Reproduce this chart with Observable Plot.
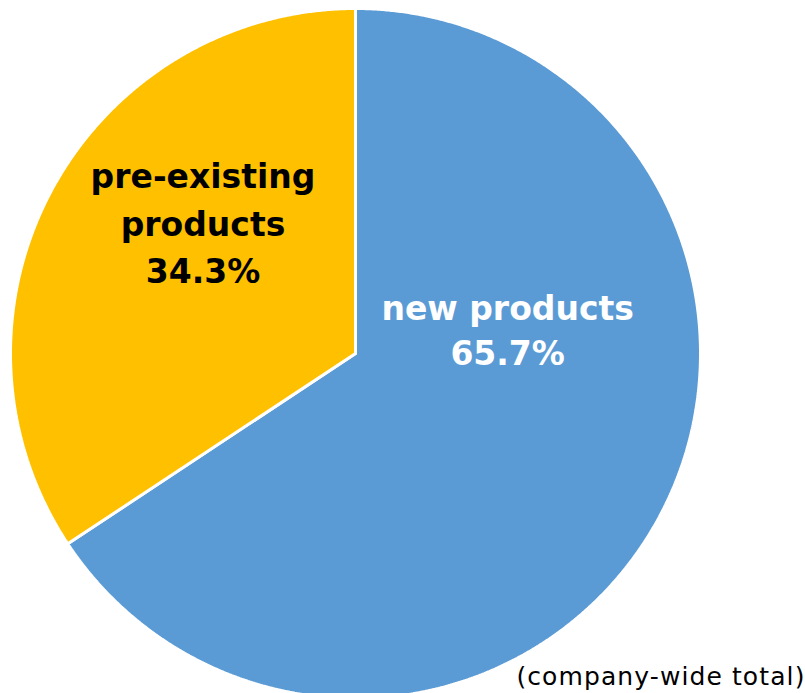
<!DOCTYPE html>
<html>
<head>
<meta charset="utf-8">
<script src="https://cdn.jsdelivr.net/npm/d3@7"></script>
<script src="https://cdn.jsdelivr.net/npm/@observablehq/plot@0.6"></script>
<style>
  html, body { margin: 0; padding: 0; background: #ffffff; }
  #chart svg { display: block; }
  .caption text { letter-spacing: 1.1px; }
</style>
</head>
<body>
<div id="chart"></div>
<script>
// ---- data ----
const categories = ["new products", "pre-existing products"];
const shares = [65.7, 34.3];
const sliceLabels = ["new products\n65.7%", "pre-existing\nproducts\n34.3%"];
const caption = "(company-wide total)";

// ---- styling / layout (not data) ----
const colors = ["#5B9BD5", "#FFC000"];
const labelColors = ["#ffffff", "#000000"];
// label anchor positions in unit-circle coordinates
const labelPos = [[0.441, 0.074], [-0.442, 0.385]];
const labelLineHeights = [1.37, 1.44];

const pie = d3.pie().sort(null).value(d => d)(shares);

// build slice outlines in unit-circle coordinates (angle clockwise from 12 o'clock)
const slicePts = [];
pie.forEach((p, i) => {
  const cat = categories[i];
  slicePts.push({cat, x: 0, y: 0});
  const n = Math.max(2, Math.ceil((p.endAngle - p.startAngle) / 0.005));
  for (let k = 0; k <= n; k++) {
    const a = p.startAngle + (p.endAngle - p.startAngle) * k / n;
    slicePts.push({cat, x: Math.sin(a), y: Math.cos(a)});
  }
  slicePts.push({cat, x: 0, y: 0});
});

const labelData = categories.map((c, i) => ({
  cat: c, text: sliceLabels[i], x: labelPos[i][0], y: labelPos[i][1],
  color: labelColors[i], lh: labelLineHeights[i]
}));

const chart = Plot.plot({
  width: 805,
  height: 693,
  margin: 0,
  style: {background: "transparent", fontFamily: "'DejaVu Sans', sans-serif"},
  x: {domain: [-1, 1], range: [10, 700], axis: null},
  y: {domain: [-1, 1], range: [698, 8], axis: null},
  color: {domain: categories, range: colors},
  marks: [
    Plot.line(slicePts, {
      x: "x", y: "y", z: "cat", fill: "cat",
      stroke: "#ffffff", strokeWidth: 3, strokeLinejoin: "miter", curve: "linear"
    }),
    ...labelData.map(d => Plot.text([d], {
      x: "x", y: "y", text: "text",
      fill: d.color, fontSize: 33, fontWeight: "bold",
      lineHeight: d.lh, lineAnchor: "middle", textAnchor: "middle"
    })),
    Plot.text([caption], {
      frameAnchor: "bottom-right", text: d => d,
      fontSize: 25, fill: "#000000", dx: 0, dy: -9,
      fontFamily: "'DejaVu Sans', sans-serif", className: "caption"
    })
  ]
});
document.getElementById("chart").appendChild(chart);
</script>
</body>
</html>
